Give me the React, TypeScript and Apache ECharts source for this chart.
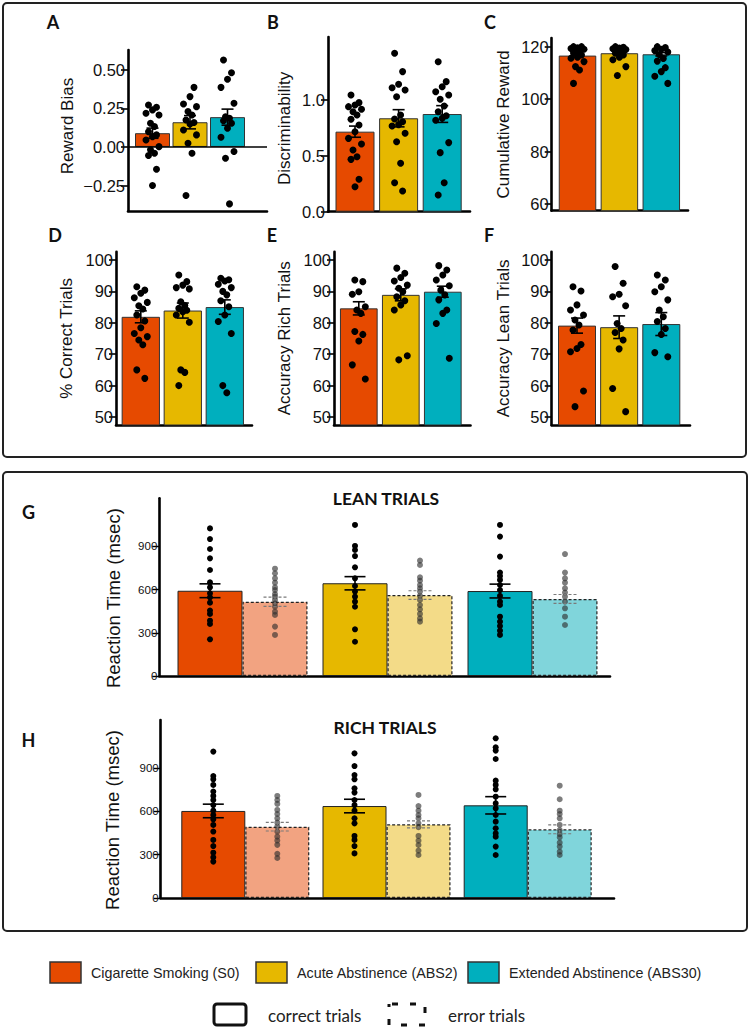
import React, { useEffect, useRef } from "react";
import * as echarts from "echarts";

// ---------- categories ----------
const groupNames = ["Cigarette Smoking (S0)", "Acute Abstinence (ABS2)", "Extended Abstinence (ABS30)"];
const trialTypes = ["correct trials", "error trials"];

// ---------- A: Reward Bias ----------
const rewardBiasMean = [0.089, 0.16, 0.193];
const rewardBiasSem = [0.033, 0.043, 0.052];
const rewardBiasS0 = [0.272, 0.257, 0.24, 0.218, 0.207, 0.153, 0.132, 0.099, 0.078, 0.067, 0.045, 0.002, -0.019, -0.041, -0.056, -0.145, -0.25];
const rewardBiasABS2 = [0.656, 0.386, 0.326, 0.278, 0.261, 0.229, 0.207, 0.175, 0.158, 0.149, 0.11, 0.078, 0.024, -0.041, -0.315];
const rewardBiasABS30 = [0.563, 0.481, 0.438, 0.386, 0.283, 0.196, 0.186, 0.17, 0.153, 0.121, 0.063, -0.03, -0.073, -0.369];
const rewardBiasTicks = [-0.25, 0, 0.25, 0.5];

// ---------- B: Discriminability ----------
const discMean = [0.717, 0.837, 0.875];
const discSem = [0.05, 0.077, 0.075];
const discS0 = [1.045, 0.977, 0.956, 0.941, 0.917, 0.896, 0.866, 0.828, 0.777, 0.717, 0.657, 0.607, 0.553, 0.493, 0.469, 0.29, 0.224];
const discABS2 = [1.419, 1.255, 1.142, 1.11, 1.09, 1.03, 0.866, 0.83, 0.806, 0.78, 0.768, 0.702, 0.627, 0.434, 0.26, 0.185];
const discABS30 = [1.344, 1.165, 1.12, 1.075, 1.045, 1.007, 0.947, 0.896, 0.86, 0.837, 0.82, 0.619, 0.529, 0.26, 0.15];
const discTicks = [0, 0.5, 1.0];

// ---------- C: Cumulative Reward ----------
const cumMean = [116.6, 117.5, 117.1];
const cumSem = [0.6, 0.45, 0.65];
const cumS0 = [120, 120, 119.6, 119.3, 119, 118.6, 118.1, 117.6, 116.8, 116, 115.6, 114.3, 112.4, 111.1, 106];
const cumABS2 = [120, 119.8, 119.5, 119.2, 118.9, 118.5, 118.1, 117.5, 116.8, 116, 115, 112.4, 109];
const cumABS30 = [120, 119.7, 119, 118.5, 118, 117, 115.5, 114.5, 112, 110.5, 108.7, 106];
const cumTicks = [60, 80, 100, 120];

// ---------- D: % Correct Trials ----------
const correctMean = [81.9, 83.9, 85.0];
const correctSem = [1.9, 2.4, 2.3];
const correctS0 = [91.5, 90.4, 89.4, 88, 86.5, 85.4, 84.4, 82.5, 80.6, 78.4, 76.6, 75.6, 74.5, 73, 65, 62.3];
const correctABS2 = [95.2, 93.1, 92, 91.2, 90.8, 86.7, 85.5, 84.6, 84, 83.5, 82.5, 80.2, 65, 64.2, 60];
const correctABS30 = [94.2, 93.7, 93.3, 92.3, 91.2, 90, 88.9, 87, 85.1, 82.5, 80.4, 76.6, 60, 57.7];

// ---------- E: Accuracy Rich Trials ----------
const richMean = [84.6, 88.9, 89.9];
const richSem = [2.1, 1.9, 1.75];
const richS0 = [93.6, 93.1, 89.9, 89.1, 85.1, 84.1, 83, 77.2, 76.3, 74.2, 66.6, 62.1];
const richABS2 = [97.4, 95.8, 94.4, 93.3, 92, 91, 89.9, 88.3, 87, 85.7, 84.1, 69.5, 68.2];
const richABS30 = [98.2, 96.8, 95.2, 93.6, 91.8, 90.4, 88.9, 87.3, 84.1, 83, 79.8, 68.7];

// ---------- F: Accuracy Lean Trials ----------
const leanAccMean = [79.1, 78.6, 79.6];
const leanAccSem = [2.4, 3.6, 3.65];
const leanAccS0 = [91.5, 90.1, 85.7, 84.1, 82.5, 80.9, 79.3, 77.7, 73.1, 71.8, 70.8, 58.3, 53.3];
const leanAccABS2 = [97.9, 92.6, 89.1, 88.3, 85.4, 79.8, 78.2, 76.9, 74.5, 71.7, 59.1, 51.7];
const leanAccABS30 = [95.2, 93.6, 91.5, 89.9, 87.3, 84.1, 81.9, 80.4, 78.2, 76.3, 70.5, 69.2];
const percentTicks = [50, 60, 70, 80, 90, 100];

// ---------- G: Reaction time, lean trials ----------
const leanRtCorrectMean = [592, 644, 590];
const leanRtCorrectSem = [48, 46, 48];
const leanRtErrorMean = [516, 562, 535];
const leanRtErrorSem = [32, 30, 31];
const leanRtCorrectS0 = [1025, 951, 882, 817, 736, 650, 616, 574, 546, 509, 454, 431, 384, 361, 255];
const leanRtErrorS0 = [745, 713, 678, 648, 616, 597, 569, 551, 528, 505, 481, 447, 424, 343, 285];
const leanRtCorrectABS2 = [1049, 903, 875, 833, 755, 678, 625, 586, 551, 516, 481, 324, 238];
const leanRtErrorABS2 = [801, 771, 685, 662, 632, 609, 586, 556, 528, 493, 463, 431, 400, 377];
const leanRtCorrectABS30 = [1049, 968, 829, 718, 694, 667, 632, 597, 556, 516, 493, 412, 377, 347, 315, 285];
const leanRtErrorABS30 = [847, 718, 678, 648, 609, 579, 551, 516, 470, 412, 354];

// ---------- H: Reaction time, rich trials ----------
const richRtCorrectMean = [603, 637, 642];
const richRtCorrectSem = [47, 47, 60];
const richRtErrorMean = [494, 510, 476];
const richRtErrorSem = [30, 24, 31];
const richRtCorrectS0 = [1014, 845, 822, 783, 737, 707, 679, 644, 605, 575, 545, 506, 460, 402, 360, 314, 282, 252];
const richRtErrorS0 = [707, 679, 652, 610, 582, 552, 522, 494, 460, 425, 398, 368, 306, 277];
const richRtCorrectABS2 = [1002, 914, 852, 822, 760, 730, 679, 644, 605, 552, 517, 430, 402, 360, 309];
const richRtErrorABS2 = [714, 637, 605, 575, 552, 517, 490, 430, 397, 367, 328, 298];
const richRtCorrectABS30 = [1106, 1044, 1021, 963, 813, 783, 753, 702, 656, 621, 575, 529, 483, 448, 425, 356, 298];
const richRtErrorABS30 = [778, 684, 605, 582, 552, 506, 471, 443, 420, 383, 356, 321, 298];
const rtTicks = [0, 300, 600, 900];

// ---------- styles ----------
const groupColors = ["#E64A00", "#E6B800", "#00AFBE"];
const errorColors = ["#F2A381", "#F3DB88", "#80D5DB"];
const SANS = "'Liberation Sans', Arial, Helvetica, sans-serif";
const NARROW = "'Liberation Sans Narrow', 'Liberation Sans', Arial, sans-serif";
const HUM = "Lato, 'Open Sans', sans-serif";
const jitterPx = [-4, 4, 0, -6.5, 6.5, -2, 2];

const topPanels = [
  { letter: "A", name: "Reward Bias", mean: rewardBiasMean, sem: rewardBiasSem, points: [rewardBiasS0, rewardBiasABS2, rewardBiasABS30], ticks: rewardBiasTicks, decimals: 2, yMin: -0.415, yMax: 0.628, zeroLine: true },
  { letter: "B", name: "Discriminability", mean: discMean, sem: discSem, points: [discS0, discABS2, discABS30], ticks: discTicks, decimals: 1, yMin: 0, yMax: 1.565, zeroLine: false },
  { letter: "C", name: "Cumulative Reward", mean: cumMean, sem: cumSem, points: [cumS0, cumABS2, cumABS30], ticks: cumTicks, decimals: 0, yMin: 57.5, yMax: 123.3, zeroLine: false },
  { letter: "D", name: "% Correct Trials", mean: correctMean, sem: correctSem, points: [correctS0, correctABS2, correctABS30], ticks: percentTicks, decimals: 0, yMin: 47.45, yMax: 102.64, zeroLine: false },
  { letter: "E", name: "Accuracy Rich Trials", mean: richMean, sem: richSem, points: [richS0, richABS2, richABS30], ticks: percentTicks, decimals: 0, yMin: 47.45, yMax: 102.64, zeroLine: false },
  { letter: "F", name: "Accuracy Lean Trials", mean: leanAccMean, sem: leanAccSem, points: [leanAccS0, leanAccABS2, leanAccABS30], ticks: percentTicks, decimals: 0, yMin: 47.45, yMax: 102.64, zeroLine: false },
];

const topLayout = [
  { left: 128, top: 50, width: 139, height: 161, firstCenter: 152.5, step: 37.5, barWidth: 35, nameGap: 52, namePad: [0, 0, 0, 9], lx: 53, ly: 22 },
  { left: 328, top: 37, width: 142, height: 174.7, firstCenter: 355, step: 43.6, barWidth: 39, nameGap: 35, namePad: [0, 8, 0, 0], lx: 273, ly: 22 },
  { left: 551.7, top: 38, width: 136.3, height: 172.7, firstCenter: 577.5, step: 41.9, barWidth: 37.5, nameGap: 40, namePad: [0, 0, 0, 0], lx: 490, ly: 22 },
  { left: 116, top: 251.7, width: 136, height: 173.3, firstCenter: 140.8, step: 42, barWidth: 38.3, nameGap: 41, namePad: [0, 0, 0, 0], lx: 55, ly: 235 },
  { left: 334, top: 251.7, width: 136.5, height: 173.3, firstCenter: 358.8, step: 42, barWidth: 37.7, nameGap: 41, namePad: [0, 0, 0, 0], lx: 272, ly: 235 },
  { left: 551.7, top: 251.7, width: 138.3, height: 173.3, firstCenter: 577, step: 42.15, barWidth: 38, nameGap: 40, namePad: [0, 0, 0, 0], lx: 489, ly: 235 },
];

const rtPanels = [
  {
    letter: "G", title: "LEAN TRIALS",
    correctMean: leanRtCorrectMean, correctSem: leanRtCorrectSem, errorMean: leanRtErrorMean, errorSem: leanRtErrorSem,
    correctPoints: [leanRtCorrectS0, leanRtCorrectABS2, leanRtCorrectABS30],
    errorPoints: [leanRtErrorS0, leanRtErrorABS2, leanRtErrorABS30],
    yMax: 1234,
  },
  {
    letter: "H", title: "RICH TRIALS",
    correctMean: richRtCorrectMean, correctSem: richRtCorrectSem, errorMean: richRtErrorMean, errorSem: richRtErrorSem,
    correctPoints: [richRtCorrectS0, richRtCorrectABS2, richRtCorrectABS30],
    errorPoints: [richRtErrorS0, richRtErrorABS2, richRtErrorABS30],
    yMax: 1233,
  },
];

const rtLayout = [
  { left: 159.3, top: 498.3, width: 450.7, height: 177.7, firstCenter: 210, step: 145, pairPx: 65, barWidth: 65, nameGap: 36, lx: 28.5, ly: 512, tx: 386, ty: 498 },
  { left: 160.7, top: 720, width: 453.3, height: 178, firstCenter: 213.3, step: 141.2, pairPx: 64, barWidth: 64, nameGap: 39, lx: 28.5, ly: 740, tx: 385, ty: 727 },
];

function fmt(v: number, d: number) {
  const s = Math.abs(v).toFixed(d);
  return v < -1e-9 ? "\u2212" + s : s;
}

function errRender(capHalf: number, color: string, width: number, dash: number[] | null) {
  return (params: any, api: any) => {
    const x = api.value(0);
    const lo = api.value(1);
    const hi = api.value(2);
    const pHi = api.coord([x, hi]);
    const pLo = api.coord([x, lo]);
    const style: any = { stroke: color, lineWidth: width, fill: null };
    if (dash) style.lineDash = dash;
    return {
      type: "group",
      children: [
        { type: "line", shape: { x1: pHi[0], y1: pHi[1], x2: pLo[0], y2: pLo[1] }, style },
        { type: "line", shape: { x1: pHi[0] - capHalf, y1: pHi[1], x2: pHi[0] + capHalf, y2: pHi[1] }, style },
        { type: "line", shape: { x1: pLo[0] - capHalf, y1: pLo[1], x2: pLo[0] + capHalf, y2: pLo[1] }, style },
      ],
    };
  };
}

function buildOption() {
  const grid: any[] = [];
  const xAxis: any[] = [];
  const yAxis: any[] = [];
  const series: any[] = [];
  const elements: any[] = [];

  // outer boxes
  elements.push({ type: "rect", shape: { x: 3, y: 3, width: 743, height: 454, r: 4 }, style: { fill: "none", stroke: "#222", lineWidth: 2 } });
  elements.push({ type: "rect", shape: { x: 3, y: 472, width: 744, height: 459, r: 4 }, style: { fill: "none", stroke: "#222", lineWidth: 2 } });

  const letter = (t: string, x: number, y: number) => ({
    type: "text", x, y,
    style: { text: t, fill: "#111", fontSize: 18, fontWeight: "bold", fontFamily: HUM, align: "center", verticalAlign: "middle" },
  });

  topPanels.forEach((p, i) => {
    const L = topLayout[i];
    const xMin = -(L.firstCenter - L.left) / L.step;
    const xMax = xMin + L.width / L.step;
    grid.push({ left: L.left, top: L.top, width: L.width, height: L.height });
    xAxis.push({
      type: "value", gridIndex: i, min: xMin, max: xMax,
      axisLine: { show: true, onZero: false, lineStyle: { color: "#000", width: 2.6 } },
      axisTick: { show: false }, axisLabel: { show: false }, splitLine: { show: false },
    });
    yAxis.push({
      type: "value", gridIndex: i, min: p.yMin, max: p.yMax,
      name: p.name, nameLocation: "middle", nameGap: L.nameGap,
      nameTextStyle: { fontSize: 17, fontFamily: SANS, color: "#111", padding: L.namePad },
      axisLine: { show: true, onZero: false, lineStyle: { color: "#000", width: 2.6 } },
      axisTick: { show: true, customValues: p.ticks, length: 7, lineStyle: { color: "#000", width: 1.6 } },
      axisLabel: { show: true, customValues: p.ticks, margin: 3, fontSize: 16.5, fontFamily: SANS, color: "#111", formatter: (v: number) => fmt(v, p.decimals) },
      splitLine: { show: false },
    });
    const bar: any = {
      type: "bar", name: p.name, xAxisIndex: i, yAxisIndex: i, barWidth: L.barWidth, z: 2,
      itemStyle: { borderColor: "#333", borderWidth: 1 },
      data: p.mean.map((m, g) => ({ name: groupNames[g], value: [g, m], itemStyle: { color: groupColors[g] } })),
    };
    if (p.zeroLine) {
      bar.markLine = {
        silent: true, symbol: "none", label: { show: false },
        lineStyle: { color: "#000", width: 1.6, type: "solid" },
        data: [{ yAxis: 0 }],
      };
    }
    series.push(bar);
    series.push({
      type: "scatter", xAxisIndex: i, yAxisIndex: i, symbolSize: 7, z: 3,
      itemStyle: { color: "#000", opacity: 1 },
      data: p.points.flatMap((arr, g) => arr.map((v, j) => [g + jitterPx[j % jitterPx.length] / L.step, v])),
    });
    series.push({
      type: "custom", xAxisIndex: i, yAxisIndex: i, z: 4,
      renderItem: errRender(6, "#000", 1.6, null),
      encode: { x: 0, y: [1, 2] },
      data: p.mean.map((m, g) => [g, m - p.sem[g], m + p.sem[g]]),
    });
    elements.push(letter(p.letter, L.lx, L.ly));
  });

  rtPanels.forEach((p, k) => {
    const i = topPanels.length + k;
    const L = rtLayout[k];
    const off = L.pairPx / L.step;
    const xMin = -(L.firstCenter - L.left) / L.step;
    const xMax = xMin + L.width / L.step;
    grid.push({ left: L.left, top: L.top, width: L.width, height: L.height });
    xAxis.push({
      type: "value", gridIndex: i, min: xMin, max: xMax,
      axisLine: { show: true, onZero: false, lineStyle: { color: "#000", width: 2.6 } },
      axisTick: { show: false }, axisLabel: { show: false }, splitLine: { show: false },
    });
    yAxis.push({
      type: "value", gridIndex: i, min: 0, max: p.yMax,
      name: "Reaction Time (msec)", nameLocation: "middle", nameGap: L.nameGap,
      nameTextStyle: { fontSize: 18.5, fontFamily: SANS, color: "#111", padding: [0, 22, 0, 0] },
      axisLine: { show: true, onZero: false, lineStyle: { color: "#000", width: 2.6 } },
      axisTick: { show: true, customValues: rtTicks, length: 7, lineStyle: { color: "#000", width: 1.4 } },
      axisLabel: { show: true, customValues: rtTicks, margin: 2, fontSize: 11.5, fontFamily: NARROW, color: "#111" },
      splitLine: { show: false },
    });
    const barData: any[] = [];
    groupNames.forEach((gn, g) => {
      barData.push({
        name: gn + " " + trialTypes[0], value: [g, p.correctMean[g]],
        itemStyle: { color: groupColors[g], borderColor: "#222", borderWidth: 1, borderType: "solid" },
      });
      barData.push({
        name: gn + " " + trialTypes[1], value: [g + off, p.errorMean[g]],
        itemStyle: { color: errorColors[g], borderColor: "#222", borderWidth: 1.2, borderType: [3, 2] },
      });
    });
    series.push({ type: "bar", xAxisIndex: i, yAxisIndex: i, barWidth: L.barWidth, z: 2, data: barData });
    series.push({
      type: "scatter", xAxisIndex: i, yAxisIndex: i, symbolSize: 6, z: 3,
      itemStyle: { color: "#000", opacity: 1 },
      data: p.correctPoints.flatMap((arr, g) => arr.map((v) => [g, v])),
    });
    series.push({
      type: "scatter", xAxisIndex: i, yAxisIndex: i, symbolSize: 6, z: 3,
      itemStyle: { color: "rgba(45,45,45,0.62)", opacity: 1 },
      data: p.errorPoints.flatMap((arr, g) => arr.map((v) => [g + off, v])),
    });
    series.push({
      type: "custom", xAxisIndex: i, yAxisIndex: i, z: 4,
      renderItem: errRender(10.5, "#000", 1.6, null),
      encode: { x: 0, y: [1, 2] },
      data: p.correctMean.map((m, g) => [g, m - p.correctSem[g], m + p.correctSem[g]]),
    });
    series.push({
      type: "custom", xAxisIndex: i, yAxisIndex: i, z: 4,
      renderItem: errRender(11.5, "#7a7a7a", 1.2, [3, 2]),
      encode: { x: 0, y: [1, 2] },
      data: p.errorMean.map((m, g) => [g + off, m - p.errorSem[g], m + p.errorSem[g]]),
    });
    elements.push(letter(p.letter, L.lx, L.ly));
    elements.push({
      type: "text", x: L.tx, y: L.ty,
      style: { text: p.title, fill: "#111", fontSize: 17.5, fontWeight: "bold", fontFamily: HUM, align: "center", verticalAlign: "middle" },
    });
  });

  // legend row 1: groups
  const legendBoxes = [50, 256, 468];
  groupNames.forEach((gn, g) => {
    const bx = legendBoxes[g];
    elements.push({ type: "rect", shape: { x: bx, y: 962, width: 31, height: 21 }, style: { fill: groupColors[g], stroke: "#333", lineWidth: 1.5 } });
    elements.push({
      type: "text", x: bx + 41, y: 973,
      style: { text: gn, fill: "#222", fontSize: 14.3, fontFamily: SANS, align: "left", verticalAlign: "middle" },
    });
  });
  // legend row 2: trial types
  elements.push({ type: "rect", shape: { x: 214, y: 1004, width: 32, height: 21, r: 3 }, style: { fill: "none", stroke: "#111", lineWidth: 3 } });
  elements.push({
    type: "text", x: 268, y: 1015,
    style: { text: trialTypes[0], fill: "#222", fontSize: 17, fontFamily: HUM, align: "left", verticalAlign: "middle" },
  });
  elements.push({ type: "rect", shape: { x: 389, y: 1004, width: 36, height: 21 }, style: { fill: "none", stroke: "#111", lineWidth: 3, lineDash: [6, 12], lineDashOffset: -3 } });
  elements.push({
    type: "text", x: 448, y: 1015,
    style: { text: trialTypes[1], fill: "#222", fontSize: 17, fontFamily: HUM, align: "left", verticalAlign: "middle" },
  });

  return {
    animation: false,
    backgroundColor: "#fff",
    grid, xAxis, yAxis, series,
    graphic: { elements },
  };
}

export default function App() {
  const ref = useRef<HTMLDivElement>(null);
  useEffect(() => {
    if (!ref.current) return;
    const chart = echarts.init(ref.current, null, { renderer: "svg" });
    chart.setOption(buildOption() as any);
    return () => chart.dispose();
  }, []);
  return <div ref={ref} style={{ position: "absolute", left: 0, top: 0, width: 750, height: 1027, background: "#fff" }} />;
}
